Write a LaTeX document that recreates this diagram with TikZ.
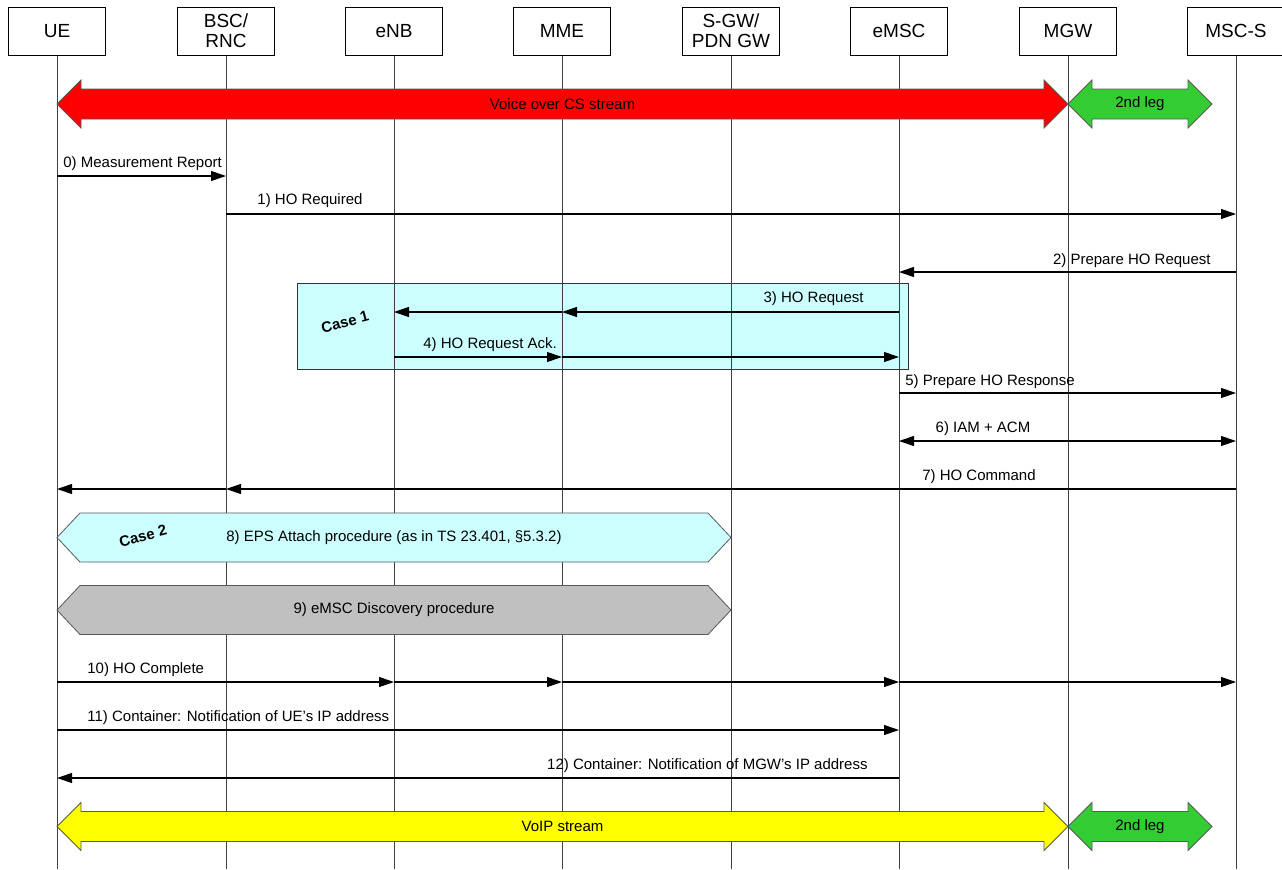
\documentclass[tikz,border=0pt]{standalone}
\usepackage{fontspec}
\setmainfont{Liberation Sans}
\usetikzlibrary{arrows.meta}

\definecolor{csred}{RGB}{255,0,0}
\definecolor{leggreen}{RGB}{51,204,51}
\definecolor{voipyellow}{RGB}{255,255,0}
\definecolor{casecyan}{RGB}{204,255,255}
\definecolor{discgray}{RGB}{192,192,192}

% block double arrow: x1, x2, y, fill, name, text
\newcommand{\dblarrow}[6]{%
  \draw[blk, fill=#4] (#1,#3) -- (#1+24,#3-24) -- (#1+24,#3-15) -- (#2-24,#3-15)
    -- (#2-24,#3-24) -- (#2,#3) -- (#2-24,#3+24) -- (#2-24,#3+15)
    -- (#1+24,#3+15) -- (#1+24,#3+24) -- cycle;
  \node (#5) at ({(#1+#2)/2},#3) {#6};}

% hexagon box: x1, x2, y, fill, name, text
\newcommand{\hexbox}[6]{%
  \draw[blk, fill=#4] (#1,#3) -- (#1+23,#3-24.5) -- (#2-23,#3-24.5) -- (#2,#3)
    -- (#2-23,#3+24.5) -- (#1+23,#3+24.5) -- cycle;
  \node (#5) at ({(#1+#2)/2},#3) {#6};}

\begin{document}
\begin{tikzpicture}[
  x=0.5pt, y=-0.5pt,
  font=\fontsize{7.5}{9}\selectfont,
  ent/.style={draw, fill=white, minimum width=48.5pt, minimum height=24pt,
              inner sep=1pt, align=center, line width=0.5pt,
              font=\fontsize{9.5}{10}\selectfont},
  life/.style={draw=black!75, line width=0.5pt},
  msg/.style={-{Triangle[length=7.5pt, width=5pt]}, line width=0.55pt},
  msgboth/.style={{Triangle[length=7.5pt, width=5pt]}-{Triangle[length=7.5pt, width=5pt]},
                  line width=0.55pt},
  lbl/.style={inner sep=0pt},
  blk/.style={draw=black!65, line width=0.4pt},
  caselbl/.style={inner sep=0pt, font=\fontsize{7.5}{9}\selectfont\bfseries, rotate=15}
]
\useasboundingbox (0,0) rectangle (1282,869);

\node[ent] (ue)   at (57,31)   {UE};
\node[ent] (bsc)  at (226,31)  {BSC/\\RNC};
\node[ent] (enb)  at (394,31)  {eNB};
\node[ent] (mme)  at (562,31)  {MME};
\node[ent] (sgw)  at (731,31)  {S-GW/\\PDN GW};
\node[ent] (emsc) at (899,31)  {eMSC};
\node[ent] (mgw)  at (1068,31) {MGW};
\node[ent] (msc)  at (1236,31) {MSC-S};

% case 1 box under the lifelines
\draw[draw=black!80, line width=0.5pt, fill=casecyan] (297,283) rectangle (908,369);
\node[caselbl] (case1) at (345,322) {Case 1};

\foreach \n in {ue,bsc,enb,mme,sgw,emsc,mgw,msc}
  \draw[life] (\n.south) -- (\n.south |- 0,869);

% messages
\draw[msg] (ue |- 0,176) -- (bsc |- 0,176);
\node[lbl, anchor=west] (l0) at (63,164) {0) Measurement Report};

\draw[msg] (bsc |- 0,214) -- (msc |- 0,214);
\node[lbl] (l1) at (310,201) {1) HO Required};

\draw[msg] (msc |- 0,272) -- (emsc |- 0,272);
\node[lbl, anchor=east] (l2) at (1211,261) {2) Prepare HO Request};

\draw[msg] (emsc |- 0,312) -- (mme |- 0,312);
\draw[msg] (mme |- 0,312) -- (enb |- 0,312);
\node[lbl, anchor=east] (l3) at (864,299) {3) HO Request};

\draw[msg] (enb |- 0,357) -- (mme |- 0,357);
\draw[msg] (mme |- 0,357) -- (emsc |- 0,357);
\node[lbl, anchor=west] (l4) at (423,345) {4) HO Request Ack.};

\draw[msg] (emsc |- 0,393) -- (msc |- 0,393);
\node[lbl, anchor=west] (l5) at (905,382) {5) Prepare HO Response};

\draw[msgboth] (emsc |- 0,441) -- (msc |- 0,441);
\node[lbl] (l6) at (983,429) {6) IAM + ACM};

\draw[msg] (msc |- 0,489) -- (bsc |- 0,489);
\draw[msg] (bsc |- 0,489) -- (ue |- 0,489);
\node[lbl] (l7) at (979,477) {7) HO Command};

\hexbox{57}{731}{537.5}{casecyan}{l8}{8) EPS Attach procedure (as in TS 23.401, §5.3.2)}
\node[caselbl] (case2) at (143,536) {Case 2};

\hexbox{57}{731}{610}{discgray}{l9}{9) eMSC Discovery procedure}

\draw[msg] (ue |- 0,682) -- (enb |- 0,682);
\draw[msg] (enb |- 0,682) -- (mme |- 0,682);
\draw[msg] (mme |- 0,682) -- (emsc |- 0,682);
\draw[msg] (emsc |- 0,682) -- (msc |- 0,682);
\node[lbl, anchor=west] (l10) at (87,670) {10) HO Complete};

\draw[msg] (ue |- 0,730) -- (emsc |- 0,730);
\node[lbl, anchor=west] (l11) at (87,718) {11) Container: Notification of UE’s IP address};

\draw[msg] (emsc |- 0,778) -- (ue |- 0,778);
\node[lbl, anchor=east] (l12) at (868,766) {12) Container: Notification of MGW’s IP address};

% bearer streams
\dblarrow{57}{1068}{104}{csred}{cs}{Voice over CS stream}
\dblarrow{1068}{1212}{104}{leggreen}{leg1}{2nd leg}
\dblarrow{57}{1068}{826.5}{voipyellow}{voip}{VoIP stream}
\dblarrow{1068}{1212}{826.5}{leggreen}{leg2}{2nd leg}
\end{tikzpicture}
\end{document}
